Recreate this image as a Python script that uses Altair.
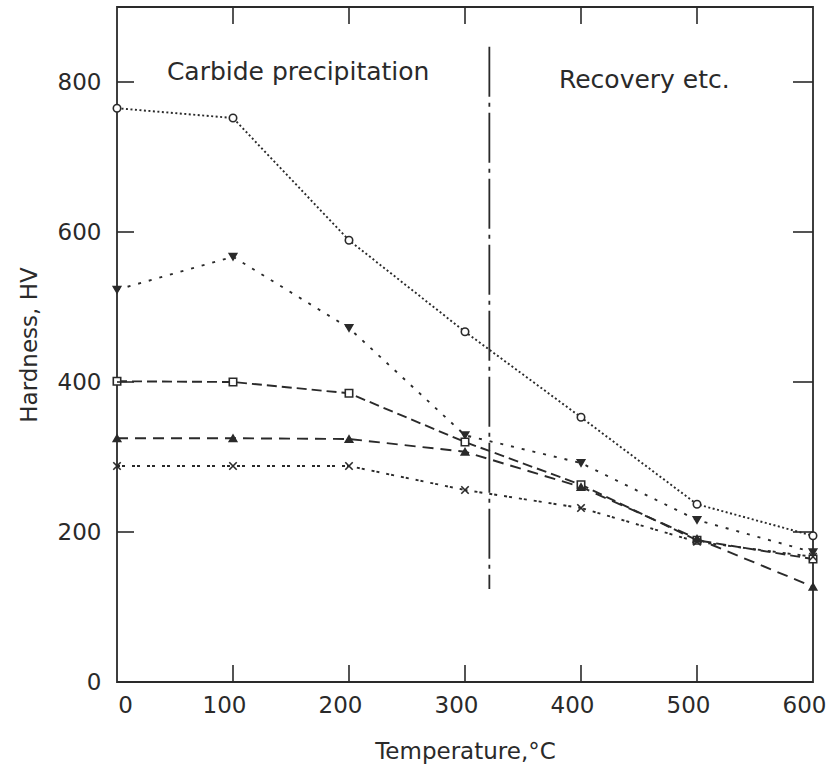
import altair as alt
import pandas as pd

temps = [0, 100, 200, 300, 400, 500, 600]
s_circle = [765, 752, 589, 467, 353, 237, 195]
s_tri_down = [523, 567, 472, 329, 292, 216, 173]
s_square = [401, 400, 385, 320, 263, 189, 164]
s_tri_up = [325, 325, 324, 307, 260, 191, 127]
s_cross = [288, 288, 288, 256, 232, 187, 167]

series_names = ["circle", "tri_down", "square", "tri_up", "cross"]
series_vals = [s_circle, s_tri_down, s_square, s_tri_up, s_cross]

x_ticks = [0, 100, 200, 300, 400, 500, 600]
y_ticks = [0, 200, 400, 600, 800]

divider_x = [321]
divider_y = [847]
divider_y2 = [124]

ann_text = ["Carbide precipitation", "Recovery etc."]
ann_x = [43, 381]
ann_y = [813, 803]

INK = "#2a2a2a"
FONT = "DejaVu Sans"
W, H = 696, 675

rows = []
for name, vals in zip(series_names, series_vals):
    for t, v in zip(temps, vals):
        rows.append({"series": name, "temp": t, "hv": v})
df = pd.DataFrame(rows)

xscale = alt.Scale(domain=[0, 600], nice=False, zero=False)
yscale = alt.Scale(domain=[0, 900], nice=False)

dash_scale = alt.Scale(
    domain=series_names,
    range=[[2, 2.5], [3, 8], [10, 5], [11, 7], [3, 2, 3, 7]],
)
X_PATH = "M-1,-1L1,1M-1,1L1,-1"
shape_scale = alt.Scale(
    domain=series_names,
    range=["circle", "triangle-down", "square", "triangle-up", X_PATH],
)
fill_scale = alt.Scale(
    domain=series_names,
    range=["white", INK, "white", INK, "transparent"],
)

xaxis = alt.Axis(
    values=x_ticks, title="Temperature,°C", grid=False, domain=False, ticks=False,
    labelFont=FONT, labelFontSize=23, labelColor=INK, labelPadding=12,
    labelFlush=False,
    labelOffset={"condition": {"test": "datum.value == 0", "value": 8}, "value": -9},
    titleFont=FONT, titleFontSize=23, titleFontWeight="normal", titleColor=INK,
    titlePadding=23,
)
yaxis = alt.Axis(
    values=y_ticks, title="Hardness, HV", grid=False, domain=False, ticks=False,
    labelFont=FONT, labelFontSize=23, labelColor=INK, labelPadding=16,
    titleFont=FONT, titleFontSize=23, titleFontWeight="normal", titleColor=INK,
    titlePadding=16,
)

base = alt.Chart(df)

lines = base.mark_line(color=INK, strokeWidth=1.9).encode(
    x=alt.X("temp:Q", scale=xscale, axis=xaxis),
    y=alt.Y("hv:Q", scale=yscale, axis=yaxis),
    strokeDash=alt.StrokeDash("series:N", scale=dash_scale, legend=None),
    detail="series:N",
)

points = base.mark_point(stroke=INK, strokeWidth=1.6, opacity=1, size=55).encode(
    x=alt.X("temp:Q", scale=xscale),
    y=alt.Y("hv:Q", scale=yscale),
    shape=alt.Shape("series:N", scale=shape_scale, legend=None),
    fill=alt.Fill("series:N", scale=fill_scale, legend=None),
)

xt = pd.DataFrame({"v": x_ticks[1:-1]})
yt = pd.DataFrame({"v": y_ticks[1:]})

tick_bottom = alt.Chart(xt).mark_rule(color=INK, strokeWidth=1.6).encode(
    x=alt.X("v:Q", scale=xscale), y=alt.value(H), y2=alt.value(H - 17))
tick_top = alt.Chart(xt).mark_rule(color=INK, strokeWidth=1.6).encode(
    x=alt.X("v:Q", scale=xscale), y=alt.value(0), y2=alt.value(17))
tick_left = alt.Chart(yt).mark_rule(color=INK, strokeWidth=1.6).encode(
    y=alt.Y("v:Q", scale=yscale), x=alt.value(0), x2=alt.value(17))
tick_right = alt.Chart(yt).mark_rule(color=INK, strokeWidth=1.6).encode(
    y=alt.Y("v:Q", scale=yscale), x=alt.value(W), x2=alt.value(W - 20))

div_df = pd.DataFrame({"x": divider_x, "y": divider_y, "y2": divider_y2})
divider = alt.Chart(div_df).mark_rule(
    color=INK, strokeWidth=1.8, strokeDash=[50, 6, 4, 6]
).encode(
    x=alt.X("x:Q", scale=xscale),
    y=alt.Y("y:Q", scale=yscale),
    y2="y2:Q",
)

ann_df = pd.DataFrame({"t": ann_text, "x": ann_x, "y": ann_y})
ann = alt.Chart(ann_df).mark_text(
    align="left", baseline="middle", font=FONT, fontSize=25, color=INK
).encode(
    x=alt.X("x:Q", scale=xscale),
    y=alt.Y("y:Q", scale=yscale),
    text="t:N",
)

chart = alt.layer(
    lines, divider, points, tick_bottom, tick_top, tick_left, tick_right, ann
).properties(
    width=W, height=H,
    autosize="none",
    background="white",
    padding={"left": 117, "top": 7, "right": 19, "bottom": 86},
).configure_view(
    stroke=INK, strokeWidth=1.8
)

chart.save("out.html", embed_options={"renderer": "svg", "actions": False})
